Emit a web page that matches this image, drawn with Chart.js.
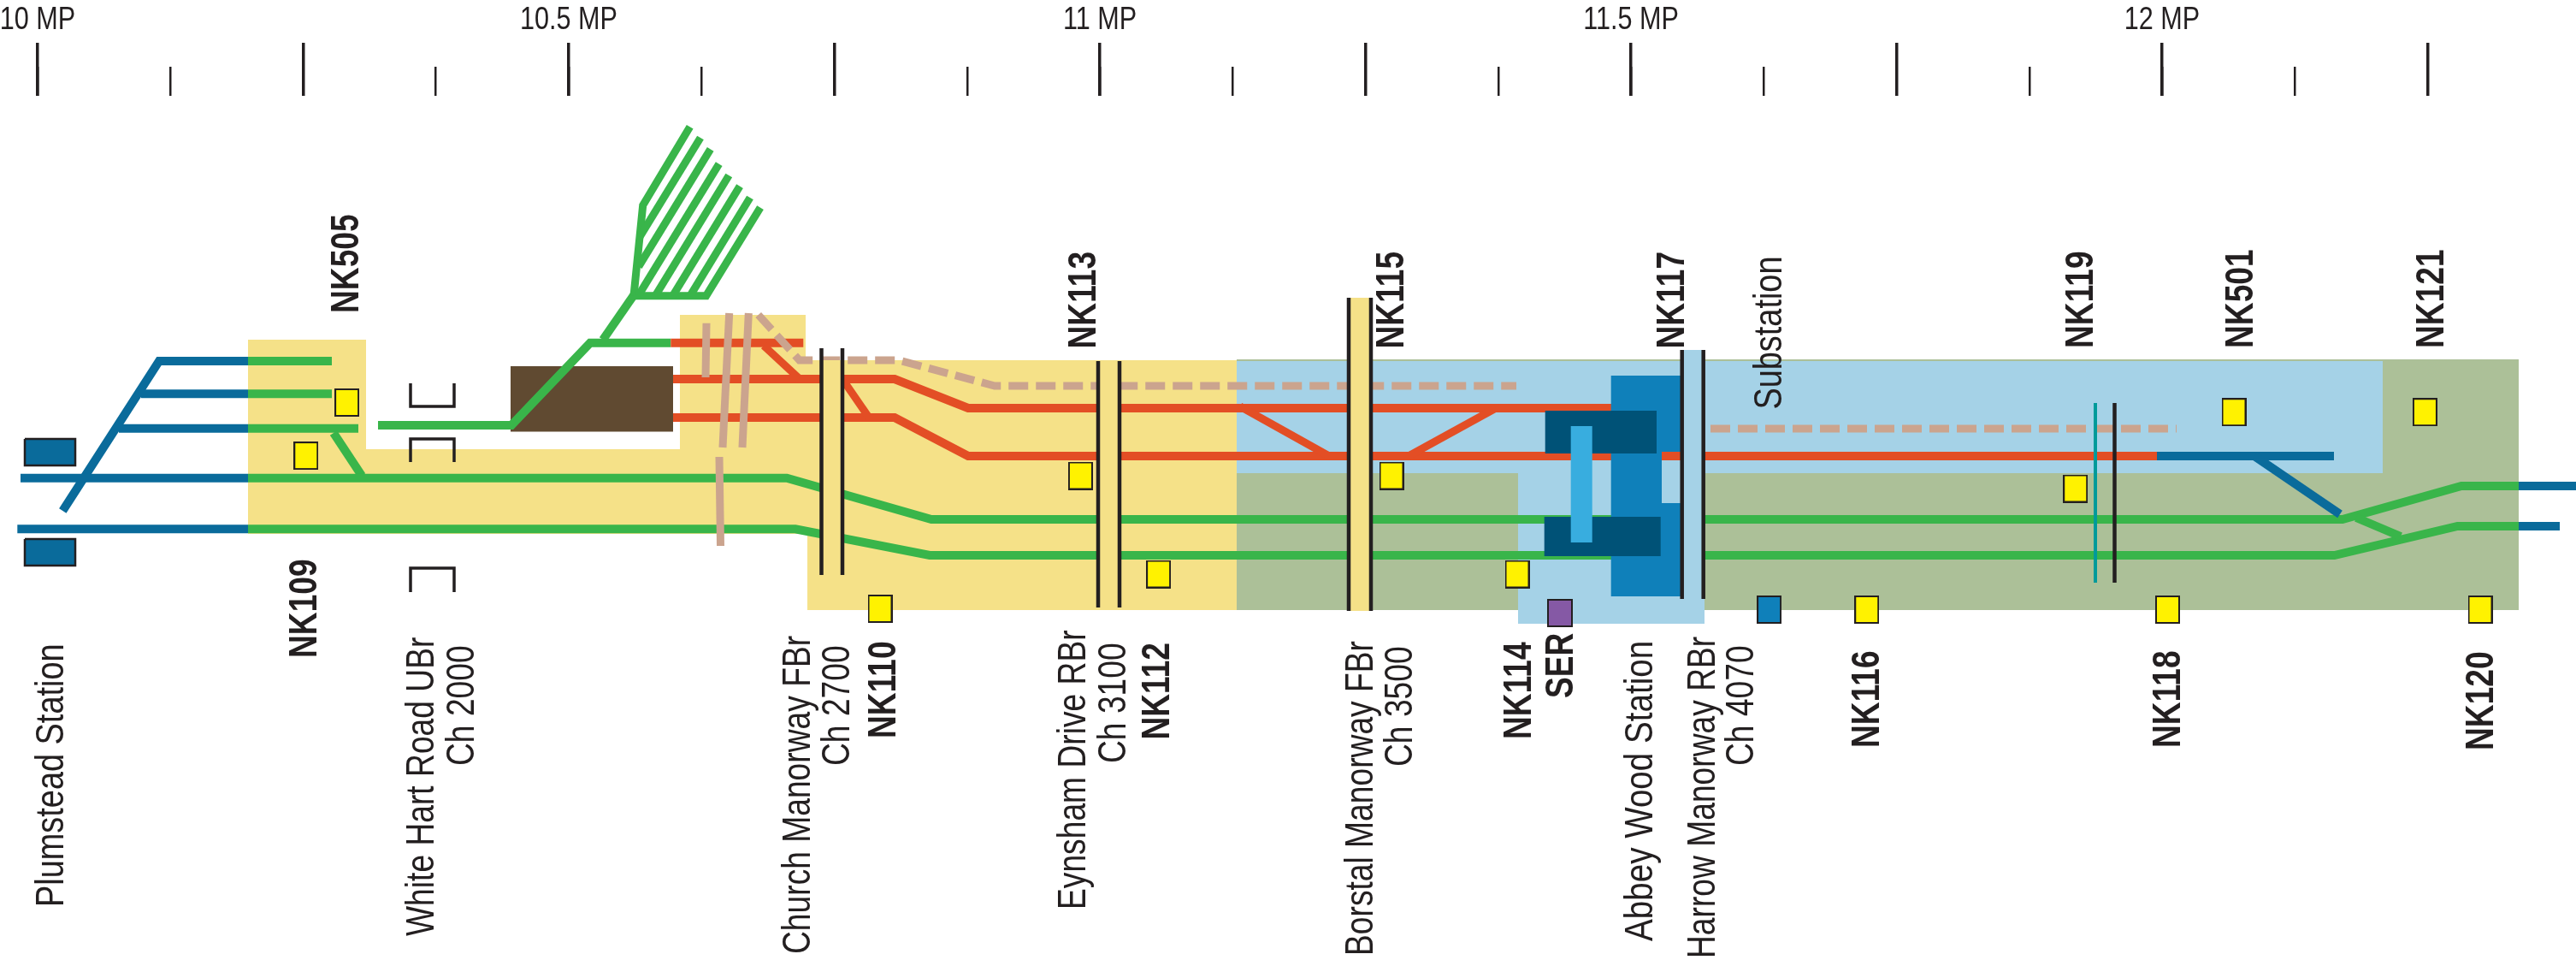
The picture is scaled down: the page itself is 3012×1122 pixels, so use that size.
<!DOCTYPE html>
<html><head><meta charset="utf-8">
<style>html,body{margin:0;padding:0;background:#fff}canvas{display:block}</style>
<script src="https://cdn.jsdelivr.net/npm/chart.js@4"></script>
</head><body><canvas id="c" width="3012" height="1122" style="width:3012px;height:1122px"></canvas>
<script>
// Schematic units: x = distance east of 10 MP (1242 units per mile), y = schematic row.
const UNITS_PER_MILE = 1242;
const LAST_MILE_TICK = 2794.5;
const zoneYellow = [[246,397],[384,397],[384,525],[751,525],[751,368],[898,368],[898,421],[1402,421],[1402,713],[900,713],[900,624],[246,624]];
const zoneSage = [[1402,420],[2901,420],[2901,713],[1402,713]];
const zoneBlue = [[1402,422],[2742,422],[2742,553],[1949,553],[1949,729],[1731,729],[1731,553],[1402,553]];
const brownBlock = [[553,428],[743,428],[743,504.5],[553,504.5]];

const blueBranch = [[246,422],[142,422],[29.3,597]];
const blueSiding2 = [[121,460.3],[246,460.3]];
const blueSiding3 = [[95,500.7],[246,500.7]];
const blueMainA = [[-20,558.7],[246,558.7]];
const blueMainB = [[-23.7,618.3],[246,618.3]];
const blueEastA = [[2901,568],[2968,568]];
const blueEastB = [[2901,615],[2949,615]];
const blueBay = [[2478,533],[2685,533]];
const blueBayLink = [[2592,533],[2692,601]];

const greenSiding1 = [[246,422],[344,422]];
const greenSiding2 = [[246,460.3],[344,460.3]];
const greenSiding3 = [[246,500.7],[375,500.7]];
const greenLinkW = [[346,506],[379,556]];
const greenMainA = [[246,558.7],[876,558.7],[1045,607],[2695,607],[2834,568],[2901,568]];
const greenMainB = [[246,618.3],[886,618.3],[1043,649],[2685.5,649],[2829.5,615],[2901,615]];
const greenLinkE = [[2711,605],[2763,627]];
const greenDepot = [[398,497],[554,497],[646,400.7],[740.3,400.7]];
const greenDepotLead = [[661,397],[697,345]];
const fanEdgeLeft = [[697,345.7],[707.7,240],[762.7,148.3]];
const fanEdgeRight = [[697,345.7],[781.7,345.7],[845,242.7]];
const fanRoad2 = [[704.3,276.3],[775,161]];
const fanRoad3 = [[702.7,311.7],[786.7,174.3]];
const fanRoad4 = [[702.3,345.7],[796.7,191.7]];
const fanRoad5 = [[722.3,345.7],[808.3,205]];
const fanRoad6 = [[742.7,345.7],[821,217.7]];
const fanRoad7 = [[763,345.7],[833,231]];

const orangeSpur = [[740.3,400.7],[895.3,400.7]];
const orangeA = [[743,443],[1002,443],[1088,477],[1860,477]];
const orangeB = [[743,488],[1002,488],[1088,533],[2478,533]];
const orangeLink1 = [[849,404],[890,442]];
const orangeLink2 = [[941,443],[972,488]];
const orangeLink3 = [[1406,475],[1510,533]];
const orangeLink4 = [[1705,477],[1603,533]];

const tanA = [[782,377.7],[781,441]];
const tanB = [[808.7,366],[801,523]];
const tanC = [[831.3,366],[824,523]];
const tanD = [[797,534],[798.5,638]];
const tanDashedA = [[842.7,368],[890.7,421],[1007,421],[1119,451],[1729,451]];
const tanDashedB = [[1956,501],[2501,501]];

const deckChurch = [[916.5,421],[941,421],[941,672],[916.5,672]];
const deckEynsham = [[1240,422],[1265,422],[1265,710],[1240,710]];
const deckBorstal = [[1533,348],[1559,348],[1559,714],[1533,714]];
const deckHarrow = [[1922.7,409],[1947.7,409],[1947.7,700],[1922.7,700]];
const bridgeLines = [
  [[916.5,407],[916.5,672]],[[941,407],[941,672]],
  [[1240,422],[1240,710]],[[1265,422],[1265,710]],
  [[1533,348],[1533,714]],[[1559,348],[1559,714]],
  [[1922.7,409],[1922.7,700]],[[1947.7,409],[1947.7,700]],
  [[2428.5,471],[2428.5,681]]
];
const tealLine = [[2406,471],[2406,681]];
const whiteHartBrackets = [
  [[436,448],[436,475],[487,475],[487,448]],
  [[436,540],[436,513],[487,513],[487,540]],
  [[436,692],[436,664],[487,664],[487,692]]
];
const platformA = [[-15,513],[44,513],[44,544],[-15,544],[-15,513]];
const platformB = [[-15,630],[44,630],[44,661],[-15,661],[-15,630]];
const stationBlock = [[1839.7,439],[1923,439],[1923,528],[1899,528],[1899,588],[1923,588],[1923,697],[1839.7,697]];
const stationDeckA = [[1762.7,480],[1893,480],[1893,530],[1762.7,530]];
const stationDeckB = [[1761.7,604],[1897.7,604],[1897.7,650],[1761.7,650]];
const stationFootbridge = [[1792.7,498],[1817.7,498],[1817.7,634],[1792.7,634]];

const yellowSignals = [[361.6,470.5],[313.8,532.6],[985,711.5],[1219.4,556],[1310.6,671],[1583,556],[1730,671],[2138.7,712.5],[2490.5,712.5],[2856,712.5],[2382.7,571],[2568,481.7],[2791.4,481.7]];
const purpleSignals = [[1780,716.5]];
const blueSignals = [[2024.6,712.5]];

const boldLabels = ["NK505","NK109","NK110","NK113","NK112","NK115","NK114","SER","NK117","NK116","NK118","NK120","NK119","NK501","NK121"];
const boldAnchors = [[419,366],[370,769],[1047,863],[1280.6,407.5],[1367,864.6],[1641,407.5],[1789.5,864],[1839,816],[1969,407.5],[2197,874],[2549,874],[2915,877],[2447,407],[2634,407],[2857,407]];
const plainLabels = ["Plumstead Station","White Hart Road UBr","Ch 2000","Church Manorway FBr","Ch 2700","Eynsham Drive RBr","Ch 3100","Borstal Manorway FBr","Ch 3500","Abbey Wood Station","Harrow Manorway RBr","Ch 4070","Substation"];
const plainAnchors = [[73.7,1060],[506.5,1094],[554,895],[947,1115],[992.6,895],[1269,1063],[1315.7,892],[1604.6,1117],[1650.5,896],[1932.4,1100],[2005,1120],[2050,895],[2083,478.6]];
const plainSqueeze = [0.815,0.80,0.80,0.80,0.80,0.80,0.80,0.80,0.80,0.83,0.80,0.80,0.815];

const C = {yellow:'#F5E188',sage:'#ACC098',sky:'#A5D2E7',brown:'#604A31',blue:'#0A6B9B',green:'#39B54A',orange:'#E34E25',tan:'#CBA48E',ink:'#231F20',teal:'#009A9A',station:'#0F80BA',deep:'#005277',cyan:'#38ADDF',marker:'#FFF200',purple:'#8559A5'};
const FONT = '"Liberation Sans",Arial,sans-serif';

function poly(data,color,extra){return Object.assign({data,showLine:true,fill:'shape',backgroundColor:color,borderColor:'rgba(0,0,0,0)',borderWidth:0,pointRadius:0,tension:0},extra||{});}
function line(data,color,w,extra){return Object.assign({data,showLine:true,fill:false,borderColor:color,borderWidth:w,pointRadius:0,tension:0,borderCapStyle:'butt',borderJoinStyle:'miter'},extra||{});}
function markerCanvas(fill,w,h){const k=document.createElement('canvas');k.width=w;k.height=h;const g=k.getContext('2d');g.fillStyle=fill;g.fillRect(0,0,w,h);g.strokeStyle=C.ink;g.lineWidth=2;g.strokeRect(1,1,w-2,h-2);return k;}
function markers(data,fill,w,h){return {data,showLine:false,pointStyle:markerCanvas(fill,w,h),pointRadius:10,backgroundColor:fill,borderColor:C.ink};}

const stack = [
  poly(zoneYellow,C.yellow),poly(zoneSage,C.sage),poly(zoneBlue,C.sky),
  line(blueBranch,C.blue,10),line(blueSiding2,C.blue,10),line(blueSiding3,C.blue,10),line(blueMainA,C.blue,10),line(blueMainB,C.blue,10),
  line(blueEastA,C.blue,10),line(blueEastB,C.blue,10),
  line(greenSiding1,C.green,10),line(greenSiding2,C.green,10),line(greenSiding3,C.green,10),line(greenLinkW,C.green,10),
  line(greenMainA,C.green,10),line(greenMainB,C.green,10),line(greenLinkE,C.green,10),
  poly(brownBlock,C.brown),
  line(greenDepot,C.green,10),line(greenDepotLead,C.green,10),
  line(fanEdgeLeft,C.green,9),line(fanEdgeRight,C.green,9),
  ...[fanRoad2,fanRoad3,fanRoad4,fanRoad5,fanRoad6,fanRoad7].map(r=>line(r,C.green,9)),
  line(orangeSpur,C.orange,10),line(orangeA,C.orange,10),line(orangeB,C.orange,10),
  line(orangeLink1,C.orange,9),line(orangeLink2,C.orange,9),line(orangeLink3,C.orange,9),line(orangeLink4,C.orange,9),
  line(blueBay,C.blue,10),line(blueBayLink,C.blue,10),
  line(tanA,C.tan,9),line(tanB,C.tan,9),line(tanC,C.tan,9),line(tanD,C.tan,9),
  line(tanDashedA,C.tan,9,{borderDash:[23,9]}),line(tanDashedB,C.tan,9,{borderDash:[23,9]}),
  poly(stationBlock,C.station),poly(stationDeckA,C.deep),poly(stationDeckB,C.deep),poly(stationFootbridge,C.cyan),
  poly(deckChurch,C.yellow),poly(deckEynsham,C.yellow),poly(deckBorstal,C.yellow),poly(deckHarrow,C.sky),
  ...bridgeLines.map(b=>line(b,C.ink,4.5)),
  line(tealLine,C.teal,4),
  ...whiteHartBrackets.map(b=>line(b,C.ink,3.5)),
  poly(platformA,C.blue,{borderColor:C.ink,borderWidth:2.5}),poly(platformB,C.blue,{borderColor:C.ink,borderWidth:2.5}),
  markers(yellowSignals,C.marker,29,33),markers(purpleSignals,C.purple,30,33),markers(blueSignals,C.station,29,33)
];
stack.forEach((d,i)=>{d.order=stack.length-i;});

const isHalfMile = v => { const mp=10+v/UNITS_PER_MILE; return Math.abs(mp*2-Math.round(mp*2))<1e-6; };
const isQuarterMile = v => { const mp=10+v/UNITS_PER_MILE; return Math.abs(mp*4-Math.round(mp*4))<1e-6; };

const condensedText = {
  id:'condensedText',
  afterDatasetsDraw(chart){
    const {ctx,scales:{x,y}}=chart;
    const put=(labels,anchors,font,squeezeOf)=>{
      labels.forEach((t,i)=>{
        ctx.save();
        ctx.translate(x.getPixelForValue(anchors[i][0]-44),y.getPixelForValue(anchors[i][1]));
        ctx.rotate(-Math.PI/2);
        ctx.scale(squeezeOf(i),1);
        ctx.font=font;ctx.fillStyle=C.ink;ctx.textAlign='left';ctx.textBaseline='alphabetic';
        ctx.fillText(t,0,0);
        ctx.restore();
      });
    };
    put(boldLabels,boldAnchors,'bold 47px '+FONT,()=>0.79);
    put(plainLabels,plainAnchors,'46.5px '+FONT,i=>plainSqueeze[i]);
    x.ticks.forEach(t=>{
      if(!t.label) return;
      ctx.save();
      ctx.translate(x.getPixelForValue(t.value),y.getPixelForValue(34));
      ctx.scale(0.85,1);
      ctx.font='36px '+FONT;ctx.fillStyle=C.ink;ctx.textAlign='center';ctx.textBaseline='alphabetic';
      ctx.fillText(t.label,0,0);
      ctx.restore();
    });
  }
};

const inRange = s => { s.ticks = s.ticks.filter(t => t.value >= -44 && t.value <= LAST_MILE_TICK+1); };
const noSidePadding = s => { s.paddingLeft=0; s.paddingRight=0; };
new Chart(document.getElementById('c'),{
  type:'scatter',
  data:{datasets:stack},
  plugins:[condensedText],
  options:{
    responsive:false,animation:false,devicePixelRatio:1,
    layout:{autoPadding:false,padding:{top:50,left:0,right:0,bottom:0}},
    plugins:{legend:{display:false},tooltip:{enabled:false}},
    events:[],
    scales:{
      x:{type:'linear',position:'top',min:-44,max:2968,
        afterBuildTicks:inRange,afterFit:noSidePadding,
        border:{display:false},
        grid:{drawOnChartArea:false,drawTicks:true,tickLength:62,lineWidth:3.5,tickWidth:3.5,
          tickColor:c=>isQuarterMile(c.tick.value)?C.ink:'rgba(0,0,0,0)'},
        ticks:{stepSize:UNITS_PER_MILE/8,autoSkip:false,display:false,maxRotation:0,minRotation:0,includeBounds:false,
          callback(v){return isHalfMile(v)?(+(10+v/UNITS_PER_MILE).toFixed(1))+' MP':'';}}
      },
      xMinor:{type:'linear',axis:'x',position:{y:78},min:-44,max:2968,
        afterBuildTicks:inRange,afterFit:noSidePadding,
        border:{display:false},
        grid:{drawOnChartArea:false,drawTicks:true,tickLength:34,lineWidth:2.5,tickWidth:2.5,tickColor:C.ink},
        ticks:{stepSize:UNITS_PER_MILE/8,autoSkip:false,display:false,includeBounds:false,maxRotation:0}
      },
      y:{type:'linear',display:false,reverse:true,min:112,max:1122}
    }
  }
});
</script></body></html>
